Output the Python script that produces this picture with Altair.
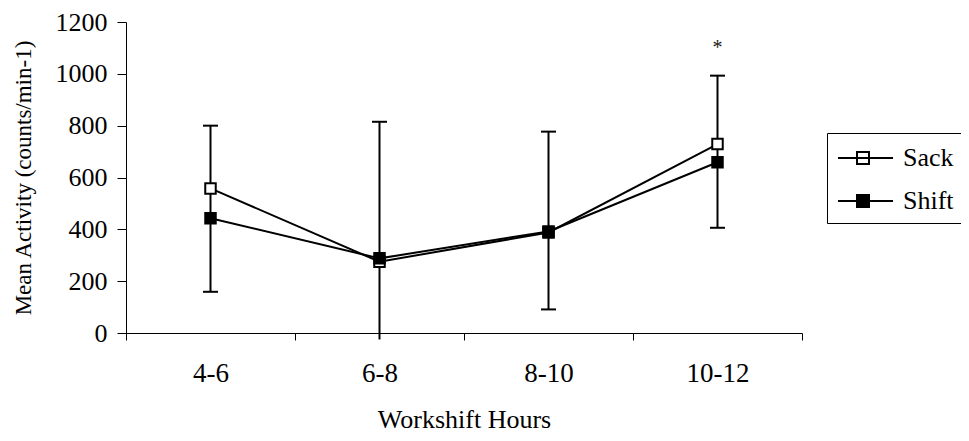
import altair as alt
import pandas as pd

hours = ["4-6", "6-8", "8-10", "10-12"]
sack = [558, 275, 388, 729]
shift = [443, 288, 392, 659]
err_low = [159, -25, 91, 406]
err_high = [800, 815, 777, 993]
star_hours = ["10-12"]
star_y = [1100]
star_text = ["*"]
y_ticks = [0, 200, 400, 600, 800, 1000, 1200]

FONT = "Liberation Serif"
YTITLE = "Mean Activity (counts/min-1)"

df = pd.DataFrame({
    "hours": hours * 2,
    "value": sack + shift,
    "series": ["Sack"] * 4 + ["Shift"] * 4,
})
err = pd.DataFrame({"hours": hours, "low": err_low, "high": err_high})
caps = pd.DataFrame({
    "hours": hours + hours,
    "cap": err_low + err_high,
})
caps = caps[caps["cap"] >= 0]
stars = pd.DataFrame({"hours": star_hours, "y": star_y, "text": star_text})

xscale = alt.Scale(paddingInner=0, paddingOuter=0)
xaxis = alt.Axis(title="Workshift Hours", tickBand="extent", labelAngle=0,
                 tickSize=7, labelPadding=20, titlePadding=20,
                 labelFontSize=27, titleFontSize=26)
yscale = alt.Scale(domain=[0, 1200], nice=False)
yaxis = alt.Axis(values=y_ticks, format="d", grid=False, tickSize=9, labelPadding=10,
                 titlePadding=20, labelFontSize=26, titleFontSize=23)


def X():
    return alt.X("hours:N", sort=hours, scale=xscale, axis=xaxis)


lines = alt.Chart(df).mark_line(color="black", strokeWidth=2).encode(
    x=X(),
    y=alt.Y("value:Q", scale=yscale, axis=yaxis, title=YTITLE),
    detail="series:N",
)

rules = alt.Chart(err).mark_rule(color="black", strokeWidth=2).encode(
    x=X(),
    y=alt.Y("low:Q", scale=yscale, title=YTITLE),
    y2="high:Q",
)

capmarks = alt.Chart(caps).mark_tick(color="black", thickness=2, size=15, opacity=1).encode(
    x=X(),
    y=alt.Y("cap:Q", scale=yscale, title=YTITLE),
)

# legend glyph: a line with a square on it, offset so it sits inside the box
legend_path = "M-0.933,0H2.733M0.333,-0.4H1.133V0.4H0.333Z"
points = alt.Chart(df).mark_square(size=110, stroke="black", strokeWidth=2,
                                   opacity=1, fillOpacity=1).encode(
    x=X(),
    y=alt.Y("value:Q", scale=yscale, title=YTITLE),
    fill=alt.Fill("series:N",
                  scale=alt.Scale(domain=["Sack", "Shift"], range=["white", "black"]),
                  legend=alt.Legend(title=None, orient="none", legendX=701, legendY=111,
                                    symbolType=legend_path, symbolSize=900,
                                    symbolStrokeColor="black", symbolStrokeWidth=2,
                                    symbolOpacity=1,
                                    labelFont=FONT, labelFontSize=26, labelColor="black",
                                    labelOffset=35, padding=9, rowPadding=14,
                                    strokeColor="black")),
)

star = alt.Chart(stars).mark_text(font=FONT, fontSize=20, color="#222222",
                                  baseline="middle").encode(
    x=X(),
    y=alt.Y("y:Q", scale=yscale, title=YTITLE),
    text="text:N",
)

chart = alt.layer(lines, rules, capmarks, points, star).properties(
    width=676, height=311,
    autosize=alt.AutoSizeParams(type="none"),
    padding={"left": 118, "top": 14, "right": 159, "bottom": 100},
    background="white",
).configure_view(stroke=None).configure_axis(
    labelFont=FONT, titleFont=FONT, labelColor="black", titleColor="black",
    domainColor="black", tickColor="black", domainWidth=1, tickWidth=1,
    titleFontWeight="normal",
)

chart.save("out.html", embed_options={"renderer": "svg", "actions": False})
